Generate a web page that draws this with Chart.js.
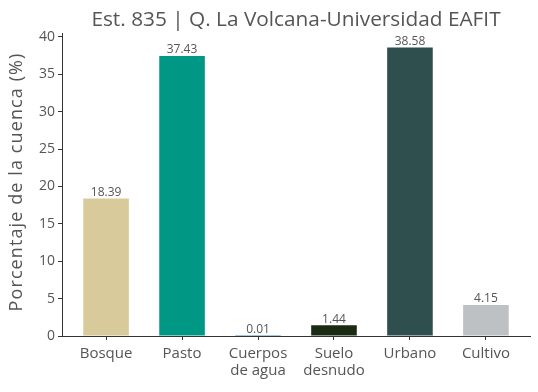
<!DOCTYPE html>
<html>
<head>
<meta charset="utf-8">
<script src="https://cdn.jsdelivr.net/npm/chart.js@4"></script>
<style>
  html, body { margin: 0; padding: 0; background: #fff; }
  #wrap { width: 538px; height: 392px; }
</style>
</head>
<body>
<div id="wrap"><canvas id="coverChart" width="538" height="392"></canvas></div>
<script>
const categories = [['Bosque'], ['Pasto'], ['Cuerpos', 'de agua'], ['Suelo', 'desnudo'], ['Urbano'], ['Cultivo']];
const percentages = [18.39, 37.43, 0.01, 1.44, 38.58, 4.15];
const barColors = ['#d9ca9c', '#009784', '#4f8fbf', '#1b2a12', '#2e4f4e', '#bdc1c4'];
const yTicks = [0, 5, 10, 15, 20, 25, 30, 35, 40];
const titleText = 'Est. 835 | Q. La Volcana-Universidad EAFIT';
const yTitleText = 'Porcentaje de la cuenca (%)';

const fontFamily = '"Open Sans", "Noto Sans", sans-serif';
const textColor = '#555555';

// bar value labels, title centred on plot area, y title
const barLabels = {
  id: 'barLabels',
  afterDatasetsDraw(chart) {
    const ctx = chart.ctx;
    const meta = chart.getDatasetMeta(0);
    ctx.save();
    ctx.font = '12px ' + fontFamily;
    ctx.fillStyle = textColor;
    ctx.textAlign = 'center';
    ctx.textBaseline = 'bottom';
    meta.data.forEach((bar, i) => {
      ctx.fillText(percentages[i].toFixed(2), bar.x, bar.y);
    });
    const area = chart.chartArea;
    ctx.font = '20.8px ' + fontFamily;
    ctx.textBaseline = 'alphabetic';
    ctx.fillText(titleText, (area.left + area.right) / 2, 26);

    ctx.font = '18px ' + fontFamily;
    ctx.letterSpacing = '1.1px';
    ctx.translate(22, 182);
    ctx.rotate(-Math.PI / 2);
    ctx.fillText(yTitleText, 0, 0);
    ctx.restore();
  }
};

const ctx = document.getElementById('coverChart').getContext('2d');
new Chart(ctx, {
  type: 'bar',
  data: {
    datasets: [{
      data: percentages.map((v, i) => ({ x: i, y: v })),
      backgroundColor: barColors,
      barPercentage: 0.6,
      categoryPercentage: 1
    }]
  },
  options: {
    responsive: false,
    animation: false,
    layout: { padding: { top: 33, right: 8, left: 0, bottom: 0 } },
    plugins: {
      legend: { display: false },
      tooltip: { enabled: false }
    },
    scales: {
      x: {
        type: 'linear',
        min: -0.58,
        max: 5.58,
        offset: false,
        afterFit: (scale) => { scale.height = 56; },
        afterBuildTicks: (scale) => {
          scale.ticks = categories.map((c, i) => ({ value: i }));
        },
        grid: { offset: false, drawOnChartArea: false, drawTicks: true, tickLength: 4, color: '#333' },
        border: { display: true, color: '#333', width: 1 },
        ticks: {
          color: textColor,
          font: { family: fontFamily, size: 15, lineHeight: 1.15 },
          padding: 5,
          autoSkip: false,
          maxRotation: 0,
          callback: (v) => categories[Math.round(v)]
        }
      },
      y: {
        min: 0,
        max: 40.51,
        afterFit: (scale) => { scale.width = 62; },
        afterBuildTicks: (scale) => {
          scale.ticks = yTicks.map((v) => ({ value: v }));
        },
        grid: { drawOnChartArea: false, drawTicks: true, tickLength: 4, color: '#333' },
        border: { display: true, color: '#333', width: 1 },
        ticks: {
          color: textColor,
          font: { family: fontFamily, size: 14 },
          padding: 3
        }
      }
    }
  },
  plugins: [barLabels]
});
</script>
</body>
</html>
